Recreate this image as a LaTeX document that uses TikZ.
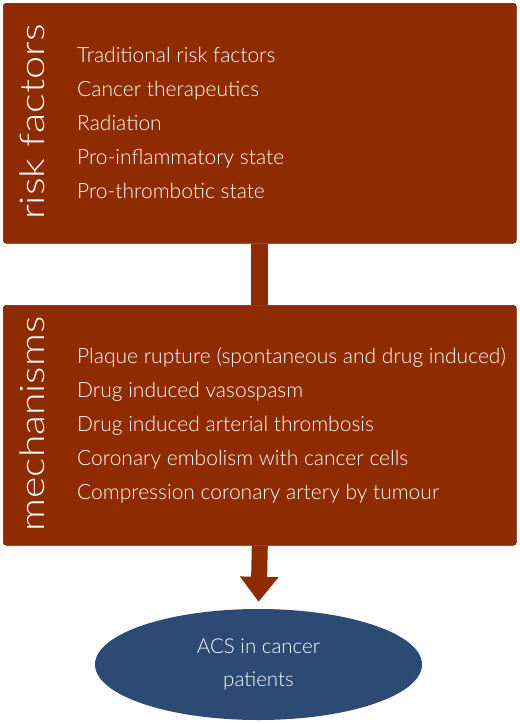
\documentclass[tikz,border=0pt]{standalone}
\usepackage{fontspec}
\IfFontExistsTF{Lato Light}{\setmainfont{Lato Light}}{\setmainfont{Lato}}
\usetikzlibrary{arrows.meta,shapes.geometric}
\definecolor{rust}{HTML}{8E2B00}
\definecolor{navy}{HTML}{2C4A73}
\begin{document}
\begin{tikzpicture}[x=1pt,y=-1pt,
  panel/.style={fill=rust, draw=rust!80!black, line width=0.6pt, rounded corners=3pt, minimum width=513pt, minimum height=240pt, anchor=north west, inner sep=0pt},
  sidelabel/.style={rotate=90, anchor=base, text=white, font=\fontsize{34}{34}\selectfont},
  item/.style={anchor=base west, text=white, font=\fontsize{21}{21}\selectfont, inner sep=0pt},
  link/.style={rust, line width=17pt},
]
\useasboundingbox (0,0) rectangle (520,724);
\fill[white] (0,0) rectangle (520,724);
\node[panel] (rf) at (3,3) {};
\node[panel] (mech) at (3,305) {};
\draw[link] (rf.south) -- (mech.north);
\node[ellipse, fill=navy, minimum width=327pt, minimum height=111pt, inner sep=0pt, align=center, text=white, font=\fontsize{20.5}{33}\selectfont] (acs) at (258.5,664.5) {ACS in cancer\\patients};
\draw[rust, line width=16pt, -{Triangle[length=25pt,width=37pt]}, shorten >=7pt] (mech.south) -- (acs.north);
\node[sidelabel] (rfl) at (45,122) {\scalebox{1.22}[1]{risk factors}};
\node[sidelabel] (mel) at (45,424) {\scalebox{1.2}[1]{mechanisms}};
\node[item] (r1) at (77,62) {Traditional risk factors};
\node[item] (r2) at (77,96) {Cancer therapeutics};
\node[item] (r3) at (77,130) {Radiation};
\node[item] (r4) at (77,164) {Pro-inflammatory state};
\node[item] (r5) at (77,198) {Pro-thrombotic state};
\node[item] (m1) at (77,363) {Plaque rupture (spontaneous and drug induced)};
\node[item] (m2) at (77,397) {Drug induced vasospasm};
\node[item] (m3) at (77,431) {Drug induced arterial thrombosis};
\node[item] (m4) at (77,465) {Coronary embolism with cancer cells};
\node[item] (m5) at (77,499) {Compression coronary artery by tumour};
\end{tikzpicture}
\end{document}
